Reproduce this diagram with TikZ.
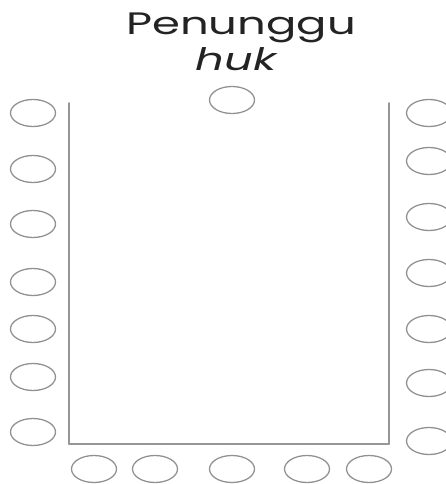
\documentclass[tikz,border=0pt]{standalone}
\usepackage{fontspec}
\usepackage{tkz-euclide}
\usetikzlibrary{shapes.geometric}
\newfontfamily\TitleFont{Poppins}
\definecolor{FrameClr}{RGB}{150,150,150}
\definecolor{SeatClr}{RGB}{145,145,145}
\definecolor{TextClr}{RGB}{35,35,35}

\begin{document}
\begin{tikzpicture}[x=1pt,y=-1pt,
  seat/.style={ellipse,draw=SeatClr,line width=1.3pt,minimum width=45pt,minimum height=27pt,inner sep=0pt},
  title/.style={font=\TitleFont\fontsize{31}{31}\selectfont,text=TextClr,anchor=base,xscale=1.45,transform shape,inner sep=0pt}]
\useasboundingbox[fill=white] (0,0) rectangle (446,484);

\tkzDefPoints{69/103/A,69/444/B,389/444/C,389/103/D}

\node[title] (head) at (241,35) {Penunggu};
\node[title] (huk) at (236,71) {\itshape huk};

% seat at the head of the table
\node[seat] (T1) at (232,100) {};

% left and right rows
\foreach \y [count=\i] in {113,169,224,282,329,377,432}
  \node[seat] (L\i) at (33,\y) {};
\foreach \y [count=\i] in {113,161,217,273,329,383,441}
  \node[seat] (R\i) at (429,\y) {};

% bottom row
\foreach \x [count=\i] in {94,155,232,307,369}
  \node[seat] (B\i) at (\x,469) {};

\tkzDrawSegments[line width=1.8pt,color=FrameClr](A,B B,C C,D)

\end{tikzpicture}
\end{document}
